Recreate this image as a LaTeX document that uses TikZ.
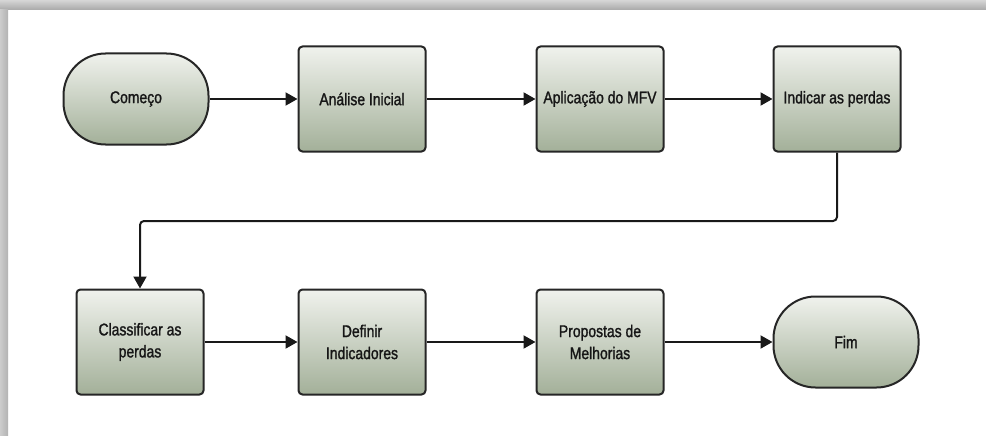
\documentclass[tikz,border=0pt]{standalone}
\usepackage{fontspec}
\setmainfont{Liberation Sans}[FakeStretch=0.82,FakeBold=1.3]
\usetikzlibrary{arrows.meta}
\definecolor{gtop}{RGB}{240,242,237}
\definecolor{gbot}{RGB}{163,176,153}
\definecolor{txt}{RGB}{22,22,22}
\begin{document}
\begin{tikzpicture}[x=1pt,y=-1pt,
  box/.style={draw=black!85, line width=2pt, rounded corners=4pt,
    top color=gtop, bottom color=gbot, minimum width=127pt, minimum height=105pt,
    align=center, inner sep=2pt, font=\fontsize{17}{22}\selectfont, text=txt},
  term/.style={box, rounded corners=42pt, minimum width=145pt, minimum height=91pt},
  conn/.style={line width=2pt, draw=black!90, -{Triangle[length=12pt,width=13pt]}}]
\useasboundingbox (0,0) rectangle (986,436);
\fill[white] (0,0) rectangle (986,436);
\shade[top color=black!16, bottom color=black!34] (0,0) rectangle (986,10);
\shade[left color=black!20, right color=black!30] (0,10) rectangle (8,436);

\node[term] (beg) at (136,99) {Começo};
\node[box] (ana) at (362,99) {Análise Inicial};
\node[box] (apl) at (600,99) {Aplicação do MFV};
\node[box] (ind) at (837,99) {Indicar as perdas};
\node[box] (cla) at (140,342) {Classificar as\\perdas};
\node[box] (def) at (362,342) {Definir\\Indicadores};
\node[box] (pro) at (600,342) {Propostas de\\Melhorias};
\node[term] (fim) at (846,342) {Fim};
\coordinate (turn) at (0,221);

\draw[conn] (beg) -- (ana);
\draw[conn] (ana) -- (apl);
\draw[conn] (apl) -- (ind);
\draw[conn, rounded corners=4pt] (ind.south) -- (ind.south |- turn) -| (cla.north);
\draw[conn] (cla) -- (def);
\draw[conn] (def) -- (pro);
\draw[conn] (pro) -- (fim);
\end{tikzpicture}
\end{document}
